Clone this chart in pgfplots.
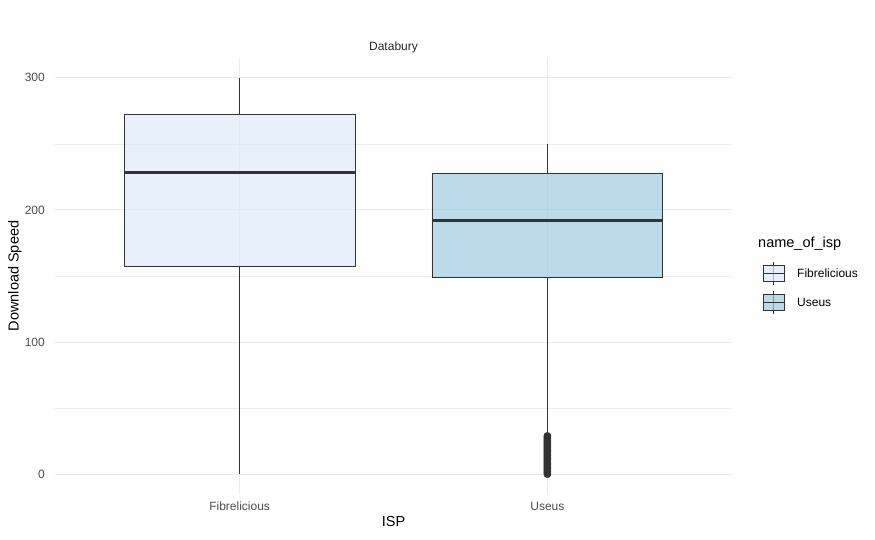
\documentclass[border=0pt]{standalone}
\usepackage{pgfplots}
\pgfplotsset{compat=1.18}
\usepackage{fontspec}
\setmainfont{Liberation Sans}
\definecolor{gridc}{HTML}{EBEBEB}
\definecolor{tickc}{HTML}{4D4D4D}
\definecolor{dark}{HTML}{333333}
\definecolor{fibfill}{HTML}{DEEBF7}
\definecolor{usefill}{HTML}{9ECAE1}
\begin{document}
\begin{tikzpicture}
\path[use as bounding box] (-55pt,-46pt) rectangle (820pt,494pt);
\begin{axis}[
  at={(0pt,0pt)}, anchor=south west,
  scale only axis, width=677pt, height=436pt,
  xmin=0.4, xmax=2.6, ymin=-15, ymax=315,
  axis line style={draw=none},
  tick style={draw=none},
  xtick={1,2}, xticklabels={Fibrelicious,Useus},
  ytick={0,100,200,300}, minor ytick={50,150,250},
  grid=both,
  major grid style={gridc, line width=0.9pt},
  minor grid style={gridc, line width=0.45pt},
  /pgf/number format/assume math mode=true,
  tick label style={font=\fontsize{12}{14}\selectfont, text=tickc},
  yticklabel style={anchor=east, inner sep=0pt, xshift=-10pt},
  xticklabel style={anchor=north, inner sep=0pt, yshift=-8pt},
  clip=false,
]
% Fibrelicious: whiskers 0 / 300, Q1 157.6, median 228, Q3 272.6
\addplot[dark, line width=0.6pt, mark=none] coordinates {(1,0) (1,157.6)};
\addplot[dark, line width=0.6pt, mark=none] coordinates {(1,272.6) (1,300)};
\addplot[draw=dark, line width=0.6pt, fill=fibfill, fill opacity=0.7, mark=none]
  coordinates {(0.625,157.6) (1.375,157.6) (1.375,272.6) (0.625,272.6) (0.625,157.6)};
\addplot[dark, line width=3pt, mark=none] coordinates {(0.625,228) (1.375,228)};
% Useus: whiskers 30 / 250, Q1 148.8, median 191.7, Q3 227.8
\addplot[dark, line width=0.6pt, mark=none] coordinates {(2,30) (2,148.8)};
\addplot[dark, line width=0.6pt, mark=none] coordinates {(2,227.8) (2,250)};
\addplot[draw=dark, line width=0.6pt, fill=usefill, fill opacity=0.7, mark=none]
  coordinates {(1.625,148.8) (2.375,148.8) (2.375,227.8) (1.625,227.8) (1.625,148.8)};
\addplot[dark, line width=3pt, mark=none] coordinates {(1.625,191.7) (2.375,191.7)};
% outliers
\addplot[only marks, mark=*, mark size=3.6pt, mark options={draw=dark, fill=dark}]
   coordinates {(2,0)(2,1)(2,2)(2,3)(2,4)(2,5)(2,6)(2,7)(2,8)(2,9)(2,10)(2,11)(2,12)(2,13)(2,14)(2,15)(2,16)(2,17)(2,18)(2,19)(2,20)(2,21)(2,22)(2,23)(2,24)(2,25)(2,26)(2,27)(2,28)(2,29)};
\end{axis}
% strip and axis titles
\node[font=\fontsize{12}{14}\selectfont, text=black!85] at (338.5pt,447pt) {Databury};
\node[font=\fontsize{14.5}{17}\selectfont, rotate=90] at (-40pt,218pt) {Download Speed};
\node[font=\fontsize{14.5}{17}\selectfont] at (338.5pt,-28pt) {ISP};
% legend
\node[font=\fontsize{14.5}{17}\selectfont, anchor=west, inner sep=0pt] at (703pt,250pt) {name\_of\_isp};
\draw[dark, line width=0.5pt] (718.5pt,209pt) -- (718.5pt,232pt);
\filldraw[draw=dark, fill=fibfill, fill opacity=0.7, line width=0.6pt] (708pt,213pt) rectangle (729pt,228.5pt);
\draw[dark, line width=0.6pt] (708pt,220.7pt) -- (729pt,220.7pt);
\draw[dark, line width=0.5pt] (718.5pt,180pt) -- (718.5pt,203pt);
\filldraw[draw=dark, fill=usefill, fill opacity=0.7, line width=0.6pt] (708pt,184pt) rectangle (729pt,199.5pt);
\draw[dark, line width=0.6pt] (708pt,191.7pt) -- (729pt,191.7pt);
\node[font=\fontsize{12}{14}\selectfont, anchor=west, inner sep=0pt] at (742pt,220.7pt) {Fibrelicious};
\node[font=\fontsize{12}{14}\selectfont, anchor=west, inner sep=0pt] at (742pt,191.7pt) {Useus};
\end{tikzpicture}
\end{document}
